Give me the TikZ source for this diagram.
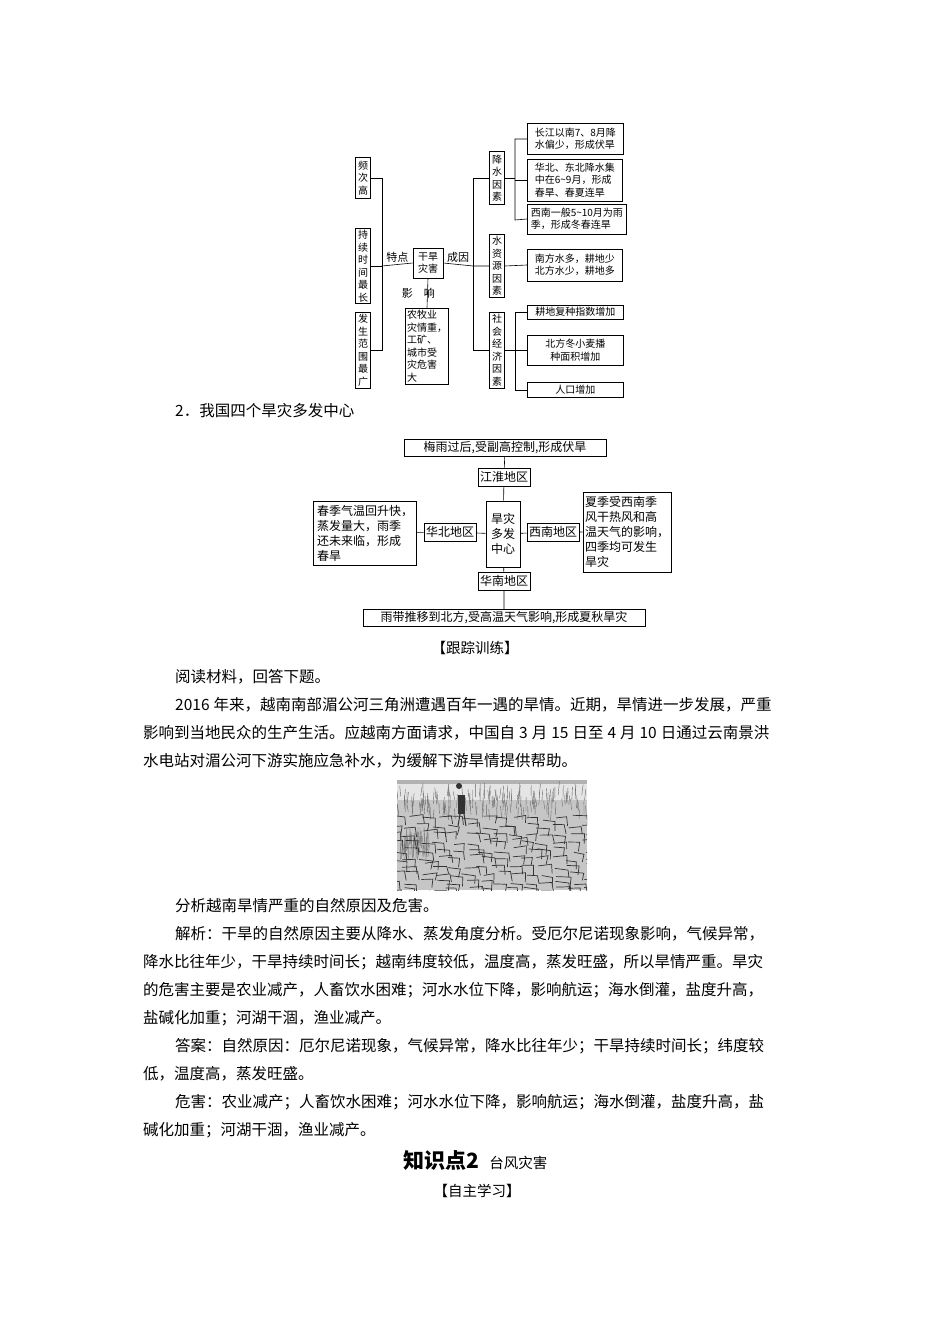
\documentclass[tikz,border=0pt]{standalone}
\usepackage{fontspec}
\setmainfont{Noto Sans CJK SC}
\XeTeXlinebreaklocale "zh"
\XeTeXlinebreakskip=0pt plus 3pt
\usetikzlibrary{positioning}
\newcommand{\jline}[3]{\node[anchor=base west,inner sep=0pt,font=\fontsize{15.5}{18}\selectfont] (#3) at (#1) {\makebox[\dimexpr 808pt-\pgfkeysvalueof{/tmp/x}\relax][s]{#2}};}
\newcommand{\nsp}{\hspace{4pt}}
\pgfkeys{/tmp/x/.initial=143pt}
\begin{document}
\begin{tikzpicture}[x=1pt,y=-1pt,
    box/.style={draw=black, line width=0.7pt, inner sep=1.5pt, align=center, font=\fontsize{10}{12.5}\selectfont},
    vbox/.style={box, text width=11pt, inner sep=2pt},
    cbox/.style={draw=black, line width=0.7pt, inner sep=2pt, align=left, font=\fontsize{12}{15}\selectfont},
    wire/.style={line width=0.6pt},
    lab/.style={font=\fontsize{11}{13}\selectfont, inner sep=0pt},
    body/.style={anchor=base west, inner sep=0pt, font=\fontsize{15.5}{18}\selectfont}
]
\useasboundingbox[fill=white] (0,0) rectangle (950,1344);

% === diagram 1: drought ===
\node[vbox, minimum height=41pt] (freq) at (363,178) {频次高};
\node[vbox, minimum height=75pt] (long) at (363,266) {持续时间最长};
\node[vbox, minimum height=75pt] (wide) at (363,350) {发生范围最广};
\coordinate (fa) at (382,178);
\coordinate (fc) at (382,350);
\coordinate (fb) at (382,266);
\draw[wire] (freq.east) -- (fa) -- (fc) -- (wide.east);
\draw[wire] (long.east) -- (fb);

\node[box, minimum width=30pt, minimum height=30pt] (drought) at (428,263) {干旱\\灾害};
\draw[wire] (fb) -- node[lab, above=2pt] {特点} (drought.west);
\node[box, align=left, minimum width=40pt, minimum height=76pt] (effect) at (427,346) {农牧业\\灾情重，\\工矿、\\城市受\\灾危害\\大};
\draw[wire] (drought.south) -- node[lab, right=-26pt] {影\quad 响} (effect.north);

\coordinate (ca) at (473,178);
\coordinate (cb) at (473,266);
\coordinate (cc) at (473,350);
\node[vbox, minimum height=53pt] (rain) at (497,178) {降水因素};
\node[vbox, minimum height=61pt] (water) at (497,266) {水资源因素};
\node[vbox, minimum height=75pt] (social) at (497,350) {社会经济因素};
\draw[wire] (drought.east) -- node[lab, above=2pt] {成因} (cb) -- (water.west);
\draw[wire] (rain.west) -- (ca) -- (cc) -- (social.west);

\node[box, anchor=west, align=left, minimum width=96pt, minimum height=31pt] (r1) at (527,139) {长江以南7、8月降\\水偏少，形成伏旱};
\node[box, anchor=west, align=left, minimum width=95pt, minimum height=42pt] (r2) at (527,180) {华北、东北降水集\\中在6\textasciitilde9月，形成\\春旱、春夏连旱};
\node[box, anchor=west, align=left, minimum width=99pt, minimum height=30pt] (r3) at (527,219) {西南一般5\textasciitilde10月为雨\\季，形成冬春连旱};
\coordinate (ra) at (515,139);
\coordinate (rc) at (515,220);
\coordinate (rb) at (515,178);
\draw[wire] (r1.west) -- (ra) -- (rc) -- (r3.west);
\draw[wire] (r2.west) -- (515,180);
\draw[wire] (rain.east) -- (rb);

\node[box, anchor=west, align=left, minimum width=95pt, minimum height=32pt] (w1) at (527,265) {南方水多，耕地少\\北方水少，耕地多};
\draw[wire] (water.east) -- (w1.west);

\node[box, anchor=west, minimum width=96pt, minimum height=14pt] (s1) at (527,312) {耕地复种指数增加};
\node[box, anchor=west, minimum width=96pt, minimum height=30pt] (s2) at (527,350) {北方冬小麦播\\种面积增加};
\node[box, anchor=west, minimum width=96pt, minimum height=15pt] (s3) at (527,390) {人口增加};
\coordinate (sa) at (515,312);
\coordinate (sc) at (515,390);
\draw[wire] (s1.west) -- (sa) -- (sc) -- (s3.west);
\draw[wire] (social.east) -- (s2.west);

% === section title ===
\node[body] (t2) at (175,416) {2．我国四个旱灾多发中心};

% === diagram 2: drought centres ===
\node[cbox, align=center, minimum width=202pt, minimum height=16pt] (meiyu) at (505,448) {梅雨过后,受副高控制,形成伏旱};
\node[cbox, minimum height=18pt] (jh) at (504,477) {江淮地区};
\node[cbox, align=center, minimum width=34pt, minimum height=66pt] (centre) at (503,534) {旱灾\\多发\\中心};
\node[cbox, minimum height=18pt] (hb) at (450,532) {华北地区};
\node[cbox, minimum height=18pt] (xn) at (553,532) {西南地区};
\node[cbox, minimum height=18pt] (hn) at (504,581) {华南地区};
\node[cbox, minimum width=103pt, minimum height=64pt] (hbtxt) at (365,533) {春季气温回升快，\\蒸发量大，雨季\\还未来临，形成\\春旱};
\node[cbox, minimum width=82pt, minimum height=80pt] (xntxt) at (627,532) {夏季受西南季\\风干热风和高\\温天气的影响，\\四季均可发生\\旱灾};
\node[cbox, align=center, minimum width=282pt, minimum height=17pt] (rainbelt) at (504,618) {雨带推移到北方,受高温天气影响,形成夏秋旱灾};
\draw[wire] (meiyu) -- (jh) -- (centre) -- (hn) -- (rainbelt);
\draw[wire] (hbtxt) -- (hb) -- (centre) -- (xn) -- (xntxt);

\node[inner sep=0pt, font=\fontsize{14.5}{17}\selectfont] (track) at (475,648) {【跟踪训练】};

% === reading text ===
\node[body] (p0) at (175,682) {阅读材料，回答下题。};
\pgfkeys{/tmp/x=175pt}\jline{175,710}{2016\nsp 年来，越南南部湄公河三角洲遭遇百年一遇的旱情。近期，旱情进一步发展，严重}{p1}
\pgfkeys{/tmp/x=143pt}\jline{143,738}{影响到当地民众的生产生活。应越南方面请求，中国自\nsp 3\nsp 月\nsp 15\nsp 日至\nsp 4\nsp 月\nsp 10\nsp 日通过云南景洪}{p2}
\node[body] (p3) at (143,766) {水电站对湄公河下游实施应急补水，为缓解下游旱情提供帮助。};

% === photo ===
\begin{scope}
\clip (397,780) rectangle (587,890);
\fill[gray!45] (397,780) rectangle (587,890);
\fill[gray!20] (397,780) rectangle (587,800);
\fill[gray!60] (397,780) rectangle (587,784);
\pgfmathsetseed{7}
\foreach \i in {1,...,160}{
  \pgfmathsetmacro{\gx}{397+190*rnd}
  \pgfmathsetmacro{\gy}{795+25*rnd}
  \draw[black!60, line width=0.4pt] (\gx,\gy) -- ++(1.5*rand,-8-6*rnd);
}
\foreach \i in {1,...,60}{
  \pgfmathsetmacro{\gx}{400+30*rnd}
  \pgfmathsetmacro{\gy}{840+20*rnd}
  \draw[black!55, line width=0.4pt] (\gx,\gy) -- ++(1.5*rand,-10-6*rnd);
}
\foreach \r in {0,...,9}{
  \foreach \c in {0,...,13}{
    \pgfmathsetmacro{\cx}{390+\c*15+5*rand}
    \pgfmathsetmacro{\cy}{818+\r*8+3*rand}
    \draw[black!80, line width=0.7pt] (\cx,\cy) -- ++(10+5*rnd,2*rand) -- ++(2*rand,7+3*rnd);
  }
}
\fill[black!80] (458,795) rectangle (465,814);
\fill[black!80] (459,786) circle (3);
\draw[black!80, line width=1pt] (460,814) -- (458,826) (464,814) -- (466,826);
\end{scope}

\node[body] (q) at (175,911) {分析越南旱情严重的自然原因及危害。};
\pgfkeys{/tmp/x=175pt}\jline{175,939}{解析：干旱的自然原因主要从降水、蒸发角度分析。受厄尔尼诺现象影响，气候异常，}{a1}
\pgfkeys{/tmp/x=143pt}\jline{143,967}{降水比往年少，干旱持续时间长；越南纬度较低，温度高，蒸发旺盛，所以旱情严重。旱灾}{a2}
\jline{143,995}{的危害主要是农业减产，人畜饮水困难；河水水位下降，影响航运；海水倒灌，盐度升高，}{a3}
\node[body] (a4) at (143,1023) {盐碱化加重；河湖干涸，渔业减产。};
\pgfkeys{/tmp/x=175pt}\jline{175,1051}{答案：自然原因：厄尔尼诺现象，气候异常，降水比往年少；干旱持续时间长；纬度较}{b1}
\node[body] (b2) at (143,1079) {低，温度高，蒸发旺盛。};
\pgfkeys{/tmp/x=175pt}\jline{175,1107}{危害：农业减产；人畜饮水困难；河水水位下降，影响航运；海水倒灌，盐度升高，盐}{b3}
\node[body] (b4) at (143,1135) {碱化加重；河湖干涸，渔业减产。};

% === heading ===
\node[anchor=base west, inner sep=0pt, font=\fontsize{21}{24}\bfseries] (kp) at (403,1168) {知识点\textbf{2}};
\node[inner sep=0pt, font=\fontsize{14.5}{17}\selectfont, right=10pt of kp.base east, anchor=base west] (typhoon) {台风灾害};
\node[inner sep=0pt, font=\fontsize{14.5}{17}\selectfont] (self) at (477,1191) {【自主学习】};
\end{tikzpicture}
\end{document}
